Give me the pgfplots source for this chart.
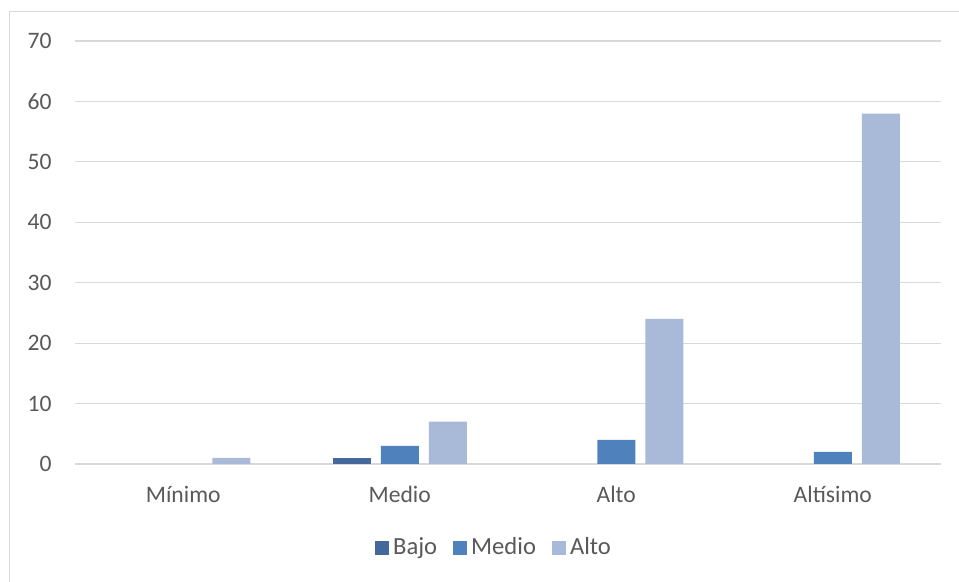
\documentclass[border=0pt]{standalone}
\usepackage{fontspec}
\setmainfont{Carlito}
\usepackage{pgfplots}
\pgfplotsset{compat=1.18}
\definecolor{cBajo}{HTML}{43689B}
\definecolor{cMedio}{HTML}{4F81BD}
\definecolor{cAlto}{HTML}{A9BAD8}
\definecolor{gridc}{HTML}{D9D9D9}
\definecolor{txt}{HTML}{595959}
\begin{document}
\fontsize{11.6}{14}\selectfont
\begin{tikzpicture}
\begin{axis}[
  name=ax,
  scale only axis,
  width=433pt, height=211.5pt,
  ybar=5pt, bar width=19pt,
  xmin=-0.5, xmax=3.5,
  ymin=0, ymax=70,
  ytick={0,10,...,70},
  xtick={0,1,2,3},
  xticklabels={Mínimo,Medio,Alto,Altísimo},
  axis line style={draw=none},
  axis x line*=bottom,
  axis y line*=left,
  major tick length=0pt,
  ymajorgrids=true, xmajorgrids=false,
  grid style={draw=gridc, line width=0.6pt},
  /pgf/number format/assume math mode=true,
  tick label style={font=\fontsize{11.8}{14}\selectfont, text=txt},
  yticklabel style={xshift=-7.6pt},
  xticklabel style={yshift=-7pt},
  legend style={at={(0.485,-0.199)}, anchor=center, draw=none, legend columns=-1,
    font=\fontsize{12.3}{14}\selectfont, text=txt,
    /tikz/every even column/.append style={column sep=6pt}},
  legend image code/.code={\fill[#1] (0pt,-3.5pt) rectangle (7pt,3.5pt);},
  clip=false,
]
\draw[gridc, line width=0.6pt] (axis cs:-0.5,0) -- (axis cs:3.5,0);
\addplot[fill=cBajo, draw=none] coordinates {(1,1)};
\addplot[fill=cMedio, draw=none] coordinates {(1,3) (2,4) (3,2)};
\addplot[fill=cAlto, draw=none] coordinates {(0,1) (1,7) (2,24) (3,58)};
\legend{Bajo,Medio,Alto}
\end{axis}
\useasboundingbox (ax.south west) ++(-37.5pt,-58.5pt) rectangle ([xshift=9pt,yshift=20.5pt]ax.north east);
\draw[gridc, line width=0.7pt] ([xshift=-32.75pt]ax.south west) ++(0,-60pt) -- ([xshift=-32.75pt,yshift=14.75pt]ax.north west) -- ([xshift=20pt,yshift=14.75pt]ax.north east);
\end{tikzpicture}
\end{document}
